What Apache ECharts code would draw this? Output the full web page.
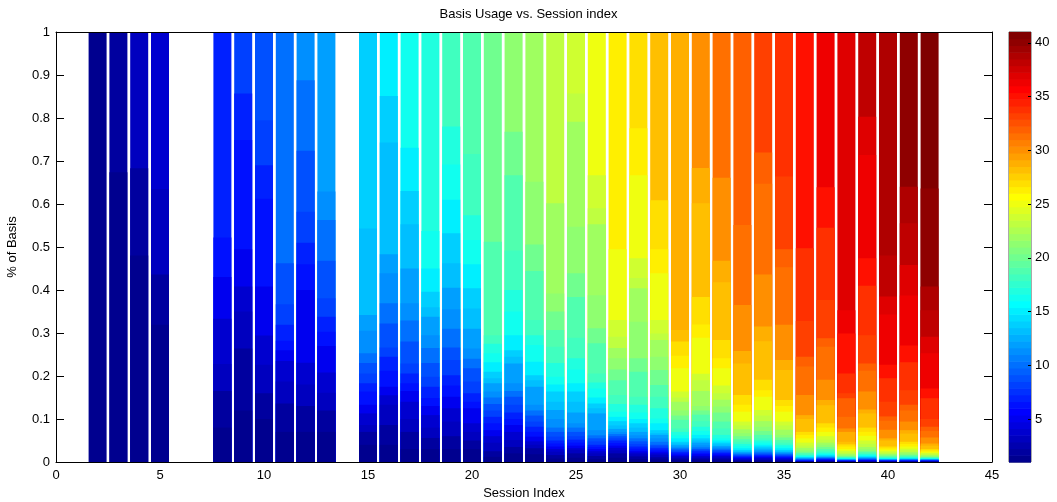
<!DOCTYPE html>
<html>
<head>
<meta charset="utf-8">
<script src="https://cdn.jsdelivr.net/npm/echarts@6/dist/echarts.min.js"></script>
<style>
  html, body { margin: 0; padding: 0; background: #fff; }
  #chart { width: 1057px; height: 502px; }
</style>
</head>
<body>
<div id="chart"></div>
<script>
// Sessions that have a bar (6, 7 and 14 are absent).
const sessions = [2, 3, 4, 5, 8, 9, 10, 11, 12, 13, 15, 16, 17, 18, 19, 20, 21, 22, 23, 24, 25,
  26, 27, 28, 29, 30, 31, 32, 33, 34, 35, 36, 37, 38, 39, 40, 41, 42];

// Cumulative share (top edge of each basis segment, basis 1 at the bottom) per session.
const tops2 = [1];
const tops3 = [0.674, 1];
const tops4 = [0.48, 0.683, 1];
const tops5 = [0.319, 0.436, 0.635, 1];
const tops8 = [0.08, 0.165, 0.228, 0.333, 0.43, 0.522, 1];
const tops9 = [0.12, 0.264, 0.35, 0.408, 0.495, 0.749, 0.857, 1];
const tops10 = [0.10, 0.16, 0.226, 0.294, 0.408, 0.612, 0.69, 0.795, 1];
const tops11 = [0.07, 0.136, 0.187, 0.235, 0.26, 0.282, 0.319, 0.367, 0.462, 1];
const tops12 = [0.07, 0.13, 0.18, 0.231, 0.40, 0.46, 0.51, 0.582, 0.724, 0.888, 1];
const tops13 = [0.07, 0.12, 0.161, 0.208, 0.27, 0.303, 0.338, 0.381, 0.468, 0.563, 0.629, 1];
const tops15 = [0.04, 0.07, 0.086, 0.113, 0.133, 0.164, 0.183, 0.206, 0.23, 0.253, 0.305, 0.342, 0.543, 1];
const tops16 = [0.04, 0.086, 0.133, 0.155, 0.175, 0.212, 0.245, 0.266, 0.322, 0.369, 0.439, 0.483, 0.743, 0.851, 1];
const tops17 = [0.03, 0.07, 0.10, 0.14, 0.165, 0.183, 0.206, 0.229, 0.28, 0.329, 0.369, 0.45, 0.553, 0.63, 0.731, 1];
const tops18 = [0.03, 0.056, 0.08, 0.109, 0.13, 0.149, 0.175, 0.198, 0.23, 0.265, 0.295, 0.338, 0.36, 0.396, 0.45, 0.537, 1];
const tops19 = [0.03, 0.06, 0.094, 0.125, 0.152, 0.178, 0.202, 0.237, 0.266, 0.31, 0.355, 0.405, 0.462, 0.532, 0.61, 0.692, 0.78, 1];
const tops20 = [0.03, 0.05, 0.07, 0.09, 0.125, 0.14, 0.16, 0.187, 0.218, 0.24, 0.264, 0.31, 0.357, 0.404, 0.46, 0.516, 0.574, 0.716, 1];
const tops21 = [0.012, 0.025, 0.045, 0.06, 0.074, 0.09, 0.105, 0.12, 0.135, 0.15, 0.164, 0.183, 0.195, 0.21, 0.232, 0.253, 0.275, 0.295, 0.512, 1];
const tops22 = [0.02, 0.035, 0.051, 0.07, 0.086, 0.1, 0.115, 0.133, 0.152, 0.165, 0.183, 0.229, 0.245, 0.26, 0.295, 0.35, 0.4, 0.492, 0.667, 0.768, 1];
const tops23 = [0.018, 0.032, 0.04, 0.048, 0.059, 0.07, 0.082, 0.094, 0.108, 0.12, 0.133, 0.175, 0.19, 0.202, 0.233, 0.272, 0.295, 0.33, 0.444, 0.506, 0.652, 1];
const tops24 = [0.008, 0.016, 0.024, 0.03, 0.036, 0.043, 0.05, 0.059, 0.07, 0.08, 0.1, 0.121, 0.14, 0.164, 0.18, 0.198, 0.23, 0.268, 0.307, 0.35, 0.392, 0.602, 1];
const tops25 = [0.01, 0.02, 0.028, 0.032, 0.038, 0.045, 0.052, 0.06, 0.07, 0.08, 0.09, 0.115, 0.14, 0.164, 0.183, 0.215, 0.241, 0.289, 0.384, 0.439, 0.547, 0.791, 0.857, 1];
const tops26 = [0.007, 0.014, 0.02, 0.025, 0.03, 0.035, 0.04, 0.048, 0.055, 0.062, 0.074, 0.113, 0.125, 0.136, 0.15, 0.171, 0.185, 0.206, 0.276, 0.311, 0.388, 0.553, 0.59, 0.667, 1];
const tops27 = [0.01, 0.02, 0.027, 0.033, 0.038, 0.044, 0.05, 0.055, 0.06, 0.065, 0.07, 0.077, 0.085, 0.095, 0.105, 0.117, 0.135, 0.156, 0.19, 0.215, 0.241, 0.265, 0.291, 0.33, 0.495, 1];
const tops28 = [0.007, 0.013, 0.018, 0.022, 0.026, 0.031, 0.036, 0.042, 0.048, 0.055, 0.062, 0.07, 0.08, 0.09, 0.1, 0.115, 0.133, 0.152, 0.21, 0.241, 0.326, 0.404, 0.428, 0.474, 0.667, 0.776, 1];
const tops29 = [0.006, 0.011, 0.016, 0.02, 0.024, 0.028, 0.032, 0.036, 0.04, 0.047, 0.055, 0.063, 0.067, 0.074, 0.09, 0.101, 0.125, 0.152, 0.179, 0.214, 0.245, 0.284, 0.299, 0.33, 0.439, 0.495, 0.609, 1];
const tops30 = [0.004, 0.008, 0.011, 0.014, 0.017, 0.02, 0.023, 0.026, 0.029, 0.032, 0.035, 0.039, 0.043, 0.047, 0.055, 0.062, 0.07, 0.078, 0.098, 0.108, 0.12, 0.14, 0.15, 0.164, 0.218, 0.247, 0.28, 0.307, 1];
const tops31 = [0.004, 0.008, 0.011, 0.014, 0.018, 0.021, 0.025, 0.028, 0.03, 0.034, 0.039, 0.045, 0.05, 0.055, 0.063, 0.072, 0.082, 0.095, 0.11, 0.12, 0.13, 0.165, 0.19, 0.205, 0.289, 0.32, 0.384, 0.602, 0.684, 1];
const tops32 = [0.004, 0.008, 0.011, 0.014, 0.017, 0.02, 0.022, 0.025, 0.028, 0.031, 0.034, 0.037, 0.041, 0.045, 0.05, 0.055, 0.063, 0.078, 0.094, 0.115, 0.129, 0.145, 0.16, 0.178, 0.218, 0.241, 0.284, 0.418, 0.468, 0.661, 1];
const tops33 = [0.002, 0.004, 0.006, 0.008, 0.01, 0.012, 0.013, 0.015, 0.017, 0.019, 0.021, 0.023, 0.025, 0.028, 0.032, 0.037, 0.042, 0.047, 0.053, 0.06, 0.067, 0.076, 0.085, 0.094, 0.117, 0.133, 0.156, 0.229, 0.258, 0.365, 0.551, 1];
const tops34 = [0.003, 0.005, 0.008, 0.01, 0.012, 0.014, 0.016, 0.018, 0.02, 0.023, 0.026, 0.029, 0.032, 0.036, 0.04, 0.045, 0.05, 0.055, 0.063, 0.072, 0.082, 0.095, 0.108, 0.121, 0.152, 0.167, 0.191, 0.281, 0.315, 0.436, 0.647, 0.72, 1];
const tops35 = [0.002, 0.004, 0.006, 0.008, 0.01, 0.012, 0.013, 0.015, 0.017, 0.019, 0.021, 0.023, 0.025, 0.028, 0.032, 0.036, 0.04, 0.045, 0.051, 0.057, 0.063, 0.075, 0.085, 0.094, 0.117, 0.13, 0.144, 0.214, 0.237, 0.319, 0.453, 0.495, 0.664, 1];
const tops36 = [0.0005, 0.001, 0.0015, 0.002, 0.0025, 0.003, 0.004, 0.005, 0.006, 0.007, 0.008, 0.009, 0.01, 0.011, 0.012, 0.014, 0.016, 0.018, 0.021, 0.024, 0.028, 0.033, 0.038, 0.045, 0.055, 0.063, 0.07, 0.1, 0.109, 0.156, 0.222, 0.245, 0.328, 0.497, 1];
const tops37 = [0.001, 0.002, 0.003, 0.004, 0.005, 0.006, 0.007, 0.008, 0.009, 0.01, 0.011, 0.012, 0.013, 0.015, 0.017, 0.019, 0.022, 0.026, 0.03, 0.035, 0.04, 0.045, 0.052, 0.06, 0.07, 0.08, 0.09, 0.132, 0.144, 0.191, 0.268, 0.288, 0.377, 0.545, 0.639, 1];
const tops38 = [0.0005, 0.001, 0.0015, 0.002, 0.0025, 0.003, 0.0035, 0.004, 0.0045, 0.005, 0.0055, 0.006, 0.0065, 0.007, 0.008, 0.009, 0.01, 0.011, 0.012, 0.014, 0.016, 0.019, 0.022, 0.026, 0.03, 0.036, 0.041, 0.047, 0.07, 0.078, 0.105, 0.148, 0.16, 0.206, 0.299, 0.353, 1];
const tops39 = [0.0005, 0.001, 0.002, 0.003, 0.004, 0.0045, 0.005, 0.006, 0.007, 0.008, 0.009, 0.01, 0.011, 0.012, 0.014, 0.016, 0.018, 0.02, 0.023, 0.026, 0.03, 0.035, 0.042, 0.05, 0.061, 0.07, 0.08, 0.113, 0.122, 0.164, 0.212, 0.229, 0.295, 0.41, 0.474, 0.714, 0.803, 1];
const tops40 = [0.0005, 0.001, 0.0015, 0.002, 0.0025, 0.003, 0.0035, 0.004, 0.0045, 0.005, 0.0055, 0.006, 0.0065, 0.007, 0.008, 0.009, 0.01, 0.011, 0.013, 0.015, 0.017, 0.019, 0.022, 0.025, 0.029, 0.032, 0.036, 0.05, 0.055, 0.075, 0.096, 0.106, 0.14, 0.195, 0.226, 0.343, 0.385, 0.48, 1];
const tops41 = [0.0005, 0.001, 0.0015, 0.002, 0.0025, 0.003, 0.004, 0.0045, 0.005, 0.0055, 0.006, 0.0065, 0.007, 0.008, 0.009, 0.01, 0.011, 0.013, 0.015, 0.017, 0.02, 0.023, 0.027, 0.031, 0.036, 0.042, 0.047, 0.066, 0.074, 0.094, 0.12, 0.133, 0.167, 0.232, 0.271, 0.387, 0.458, 0.555, 0.64, 1];
const tops42 = [0.0005, 0.001, 0.0015, 0.002, 0.0025, 0.003, 0.0035, 0.004, 0.0045, 0.005, 0.0055, 0.006, 0.0065, 0.007, 0.0075, 0.008, 0.009, 0.01, 0.011, 0.012, 0.014, 0.016, 0.018, 0.021, 0.024, 0.027, 0.03, 0.038, 0.043, 0.057, 0.072, 0.082, 0.1, 0.148, 0.171, 0.253, 0.291, 0.353, 0.408, 0.636, 1];

const topsPerSession = [tops2, tops3, tops4, tops5, tops8, tops9, tops10, tops11, tops12, tops13,
  tops15, tops16, tops17, tops18, tops19, tops20, tops21, tops22, tops23, tops24, tops25,
  tops26, tops27, tops28, tops29, tops30, tops31, tops32, tops33, tops34, tops35, tops36,
  tops37, tops38, tops39, tops40, tops41, tops42];

// Colour scale range and its tick labels.
const colorMin = 1;
const colorMax = 41;
const colorTicks = [5, 10, 15, 20, 25, 30, 35, 40];
const basisCount = 41;

// 64-step "jet" colormap.
function jetMap(m) {
  const n = Math.ceil(m / 4);
  const u = [];
  for (let i = 1; i <= n; i++) u.push(i / n);
  for (let i = 0; i < n - 1; i++) u.push(1);
  for (let i = n; i >= 1; i--) u.push(i / n);
  const g0 = Math.ceil(n / 2) - (m % 4 === 1 ? 1 : 0);
  const J = Array.from({ length: m }, () => [0, 0, 0]);
  for (let k = 0; k < u.length; k++) {
    const g = g0 + k + 1, r = g + n, b = g - n;
    if (r >= 1 && r <= m) J[r - 1][0] = u[k];
    if (g >= 1 && g <= m) J[g - 1][1] = u[k];
    if (b >= 1 && b <= m) J[b - 1][2] = u[k];
  }
  return J.map(c => 'rgb(' + c.map(v => Math.round(v * 255)).join(',') + ')');
}
const JET = jetMap(64);
function colorFor(value) {
  const idx = Math.min(JET.length, Math.floor((value - colorMin) / (colorMax - colorMin) * JET.length) + 1);
  return JET[Math.max(1, idx) - 1];
}

const FONT = 'Liberation Sans';
const TXT = { fontFamily: FONT, fontSize: 13, color: '#000' };

// Each basis is drawn as a bar reaching its cumulative top; higher bases are
// painted first so the lower segments sit over them, giving a stacked look.
const series = [];
for (let k = basisCount; k >= 1; k--) {
  series.push({
    type: 'bar',
    name: 'Basis ' + k,
    xAxisIndex: 0,
    yAxisIndex: 0,
    barWidth: 18,
    barGap: '-100%',
    itemStyle: { color: colorFor(k) },
    data: sessions.map((s, i) => {
      const t = topsPerSession[i];
      return k <= t.length ? [s, t[k - 1]] : [s, '-'];
    }),
    z: 2
  });
}

// Colour bar: one cell per colormap step.
const bandIndex = JET.map((c, i) => i);
series.push({
  type: 'custom',
  xAxisIndex: 2,
  yAxisIndex: 2,
  data: bandIndex,
  renderItem: function (params, api) {
    const i = api.value(0);
    const step = (colorMax - colorMin) / JET.length;
    const p0 = api.coord([0, colorMin + step * i]);
    const p1 = api.coord([1, colorMin + step * (i + 1)]);
    return {
      type: 'rect',
      shape: { x: p0[0], y: p1[1], width: p1[0] - p0[0], height: p0[1] - p1[1] + 0.6 },
      style: { fill: JET[i] }
    };
  },
  z: 2
});

const option = {
  animation: false,
  backgroundColor: '#fff',
  title: {
    text: 'Basis Usage vs. Session index',
    left: 'center',
    top: 3,
    textStyle: { fontFamily: FONT, fontSize: 13, fontWeight: 'normal', color: '#000' }
  },
  grid: [
    { left: 56, right: 65, top: 32, bottom: 40, outerBoundsMode: 'none', containLabel: false },
    { left: 1009, width: 22, top: 32, height: 430, show: true, borderColor: '#555', borderWidth: 1,
      outerBoundsMode: 'none', containLabel: false }
  ],
  xAxis: [
    {
      gridIndex: 0, type: 'value', min: 0, max: 45, interval: 5, position: 'bottom',
      name: 'Session Index', nameLocation: 'middle', nameGap: 25, nameTextStyle: TXT,
      axisLine: { onZero: false, lineStyle: { color: '#000', width: 1 } },
      axisTick: { show: false },
      splitLine: { show: false },
      axisLabel: Object.assign({ margin: 7 }, TXT),
      z: 10
    },
    {
      gridIndex: 0, type: 'value', min: 0, max: 45, position: 'top',
      axisLine: { onZero: false, lineStyle: { color: '#000', width: 1 } },
      axisTick: { show: false }, axisLabel: { show: false }, splitLine: { show: false },
      z: 10
    },
    { gridIndex: 1, type: 'value', min: 0, max: 1, show: false }
  ],
  yAxis: [
    {
      gridIndex: 0, type: 'value', min: 0, max: 1, interval: 0.1, position: 'left',
      name: '% of Basis', nameLocation: 'middle', nameGap: 37, nameRotate: 90, nameTextStyle: TXT,
      axisLine: { show: true, onZero: false, lineStyle: { color: '#000', width: 1 } },
      axisTick: { show: true, inside: true, length: 8, lineStyle: { color: '#000' } },
      splitLine: { show: false },
      axisLabel: Object.assign({ margin: 6 }, TXT),
      z: 10
    },
    {
      gridIndex: 0, type: 'value', min: 0, max: 1, interval: 0.1, position: 'right',
      axisLine: { show: true, onZero: false, lineStyle: { color: '#000', width: 1 } },
      axisTick: { show: true, inside: true, length: 8, lineStyle: { color: '#000' } },
      axisLabel: { show: false }, splitLine: { show: false },
      z: 10
    },
    {
      gridIndex: 1, type: 'value', min: colorMin, max: colorMax, position: 'right',
      axisLine: { show: false, onZero: false },
      axisTick: { show: true, inside: true, length: 3, customValues: colorTicks, lineStyle: { color: '#000' } },
      axisLabel: Object.assign({ margin: 4, customValues: colorTicks }, TXT),
      splitLine: { show: false },
      z: 10
    }
  ],
  series: series
};

const chart = echarts.init(document.getElementById('chart'), null, { renderer: 'canvas' });
chart.setOption(option);
</script>
</body>
</html>
